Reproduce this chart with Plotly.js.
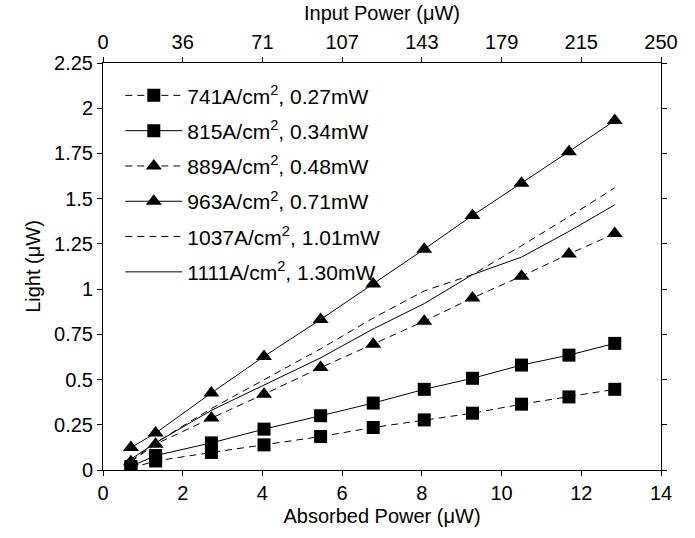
<!DOCTYPE html>
<html>
<head>
<meta charset="utf-8">
<script src="https://cdn.plot.ly/plotly-3.0.1.min.js"></script>
<style>html,body{margin:0;padding:0;background:#fff;}#chart{width:695px;height:538px;}</style>
</head>
<body>
<div id="chart"></div>
<script>
// Absorbed power (µW) – shared x values
const absorbedPower = [0.7, 1.32, 2.72, 4.04, 5.46, 6.78, 8.06, 9.27, 10.5, 11.69, 12.84];
// Light output (µW) per current density
const light741  = [0.01, 0.05, 0.097, 0.139, 0.185, 0.235, 0.277, 0.314, 0.364, 0.404, 0.446];
const light815  = [0.02, 0.08, 0.15, 0.226, 0.30, 0.37, 0.446, 0.507, 0.580, 0.635, 0.700];
const light889  = [0.045, 0.143, 0.287, 0.419, 0.566, 0.695, 0.823, 0.951, 1.071, 1.194, 1.307];
const light963  = [0.124, 0.204, 0.426, 0.628, 0.832, 1.028, 1.221, 1.407, 1.585, 1.76, 1.932];
const light1037 = [0.05, 0.15, 0.34, 0.50, 0.67, 0.84, 0.99, 1.08, 1.24, 1.40, 1.56];
const light1111 = [0.06, 0.15, 0.33, 0.47, 0.62, 0.78, 0.92, 1.08, 1.177, 1.319, 1.466];
const seriesNames = [
  "741A/cm<sup>2</sup>, 0.27mW",
  "815A/cm<sup>2</sup>, 0.34mW",
  "889A/cm<sup>2</sup>, 0.48mW",
  "963A/cm<sup>2</sup>, 0.71mW",
  "1037A/cm<sup>2</sup>, 1.01mW",
  "1111A/cm<sup>2</sup>, 1.30mW"
];
// Top axis (input power, µW)
const inputTickLabels = ["0", "36", "71", "107", "143", "179", "215", "250"];
const inputMax = 250;

const FONT = "Liberation Sans, Arial, Helvetica, sans-serif";
const DASH = "7px,5px";

function tr(y, name, dash, symbol, size, i) {
  const t = {
    x: absorbedPower, y: y, name: name, type: "scatter",
    legendgroup: "g" + i,
    mode: symbol ? "lines+markers" : "lines",
    line: {color: "#000", width: 1, dash: dash},
    hoverinfo: "x+y"
  };
  if (symbol) t.marker = {symbol: symbol, size: size, color: "#000"};
  return t;
}

const traces = [
  tr(light741, seriesNames[0], DASH, "square", 13, 0),
  tr(light815, seriesNames[1], "solid", "square", 13, 1),
  tr(light889, seriesNames[2], DASH, "triangle-up", 14, 2),
  tr(light963, seriesNames[3], "solid", "triangle-up", 14, 3),
  tr(light1037, seriesNames[4], DASH, null, 0, 4),
  tr(light1111, seriesNames[5], "solid", null, 0, 5),
  {x: [0, inputMax], y: [null, null], xaxis: "x2", yaxis: "y", type: "scatter",
   mode: "markers", showlegend: false, hoverinfo: "skip", marker: {opacity: 0}}
];

const inputTickVals = inputTickLabels.map((_, k) => k * inputMax / (inputTickLabels.length - 1));

const axisCommon = {
  showgrid: false, zeroline: false, showline: true, linecolor: "#000", linewidth: 1,
  ticks: "outside", ticklen: 5, tickwidth: 1, tickcolor: "#000",
  tickfont: {family: FONT, size: 20, color: "#000"}
};

const layout = {
  width: 695, height: 538,
  margin: {l: 103, r: 34, t: 63, b: 68},
  paper_bgcolor: "#fff", plot_bgcolor: "#fff",
  font: {family: FONT, size: 20, color: "#000"},
  showlegend: true,
  legend: {
    x: 0.031, y: 0.97, xanchor: "left", yanchor: "top",
    bgcolor: "rgba(0,0,0,0)", borderwidth: 0,
    traceorder: "grouped", tracegroupgap: 5,
    itemwidth: 57,
    font: {family: FONT, size: 21, color: "#000"}
  },
  xaxis: Object.assign({}, axisCommon, {
    range: [0, 14], dtick: 2, tick0: 0, mirror: "ticks",
    title: {text: "Absorbed Power (μW)", font: {family: FONT, size: 20}, standoff: 5}
  }),
  xaxis2: Object.assign({}, axisCommon, {
    overlaying: "x", side: "top", range: [0, inputMax],
    tickmode: "array", tickvals: inputTickVals, ticktext: inputTickLabels,
    title: {text: "Input Power (μW)", font: {family: FONT, size: 20}, standoff: 5}
  }),
  yaxis: Object.assign({}, axisCommon, {
    range: [0, 2.25], dtick: 0.25, tick0: 0, mirror: "ticks",
    title: {text: "Light (μW)", font: {family: FONT, size: 20}, standoff: 8}
  })
};

Plotly.newPlot("chart", traces, layout, {displayModeBar: false, staticPlot: true});
</script>
</body>
</html>
